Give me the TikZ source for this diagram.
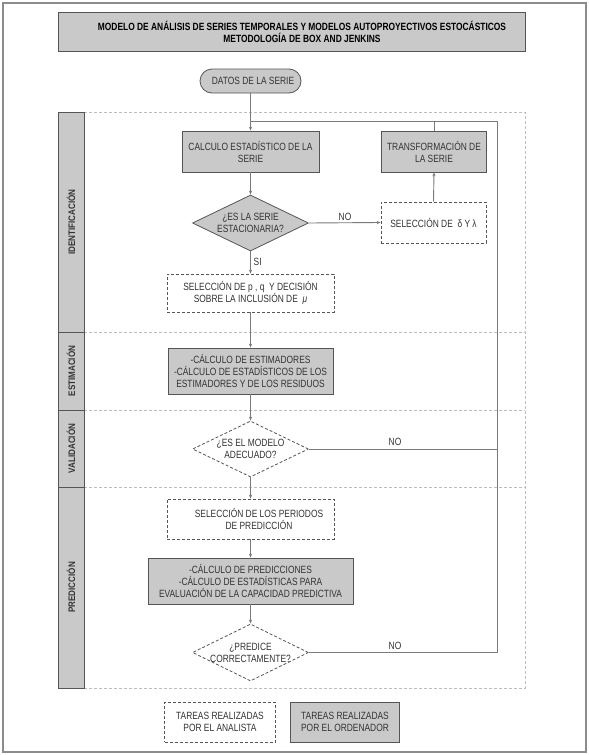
\documentclass[tikz,border=0pt]{standalone}
\usepackage{fontspec}
\setmainfont{Liberation Sans}[FakeStretch=0.8]
\newfontfamily\titlefont{Liberation Sans}[FakeStretch=0.8]
\newfontfamily\secfont{Liberation Sans}[FakeStretch=0.85]
\usetikzlibrary{shapes.geometric,arrows.meta}
\definecolor{boxfill}{HTML}{C9C9C9}
\definecolor{boxline}{HTML}{555555}
\definecolor{conn}{HTML}{7A7A7A}
\definecolor{txt}{HTML}{333333}
\definecolor{zone}{HTML}{BDBDBD}
\definecolor{frame}{HTML}{8C8C8C}
\tikzset{
  body/.style={font=\fontsize{10.5}{12}\selectfont, text=txt, align=center, inner sep=0pt},
  graybox/.style={body, rectangle, draw=boxline, fill=boxfill, line width=0.8pt},
  dashbox/.style={body, rectangle, draw=boxline, fill=white, line width=0.8pt, dash pattern=on 3pt off 2pt},
  graydia/.style={diamond, draw=boxline, fill=boxfill, line width=0.8pt, minimum width=116pt, minimum height=56pt, inner sep=0pt},
  dashdia/.style={diamond, draw=boxline, fill=white, line width=0.8pt, dash pattern=on 3pt off 2pt, minimum width=116pt, minimum height=56pt, inner sep=0pt},
  secbox/.style={rectangle, draw=boxline, fill=boxfill, line width=0.8pt, rotate=90, minimum height=26pt, inner sep=0pt, text=txt, font=\secfont\bfseries\fontsize{9.5}{11}\selectfont},
  conline/.style={draw=conn, line width=0.9pt},
  arr/.style={conline, -{Stealth[length=4pt,width=3.2pt]}},
  lbl/.style={body, text=txt}
}
\begin{document}
\begin{tikzpicture}[x=1pt,y=-1pt]
\useasboundingbox (0,0) rectangle (589,755);
\fill[white] (0,0) rectangle (589,755);
\draw[frame, line width=1.8pt] (3,3) rectangle (586,752);

% title
\node[rectangle, draw=boxline, fill=boxfill, line width=0.8pt, minimum width=467pt, minimum height=39pt, inner sep=0pt] (title) at (291.5,31.5) {};
\node[align=center, text=black, font=\titlefont\bfseries\fontsize{10.5}{12}\selectfont, inner sep=0pt] (titletext) at (302,32)
  {MODELO DE ANÁLISIS DE SERIES TEMPORALES Y MODELOS AUTOPROYECTIVOS ESTOCÁSTICOS\\METODOLOGÍA DE BOX AND JENKINS};

% zones
\draw[zone, line width=0.8pt, dash pattern=on 3pt off 2pt] (84,112) -- (525,112) -- (525,688) -- (84,688);
\draw[zone, line width=0.8pt, dash pattern=on 3pt off 2pt] (84,332) -- (525,332);
\draw[zone, line width=0.8pt, dash pattern=on 3pt off 2pt] (84,410) -- (525,410);
\draw[zone, line width=0.8pt, dash pattern=on 3pt off 2pt] (84,487) -- (525,487);

\node[secbox, minimum width=220pt] (sid) at (71,222) {IDENTIFICACIÓN};
\node[secbox, minimum width=78pt] (ses) at (71,371) {ESTIMACIÓN};
\node[secbox, minimum width=77pt] (sva) at (71,448.5) {VALIDACIÓN};
\node[secbox, minimum width=201pt] (spr) at (71,587.5) {PREDICCIÓN};

% nodes
\node[graybox, rounded corners=12pt, minimum width=101pt, minimum height=24pt] (datos) at (250.5,81) {\hspace*{5pt}DATOS DE LA SERIE};
\node[graybox, minimum width=137pt, minimum height=41pt] (calc) at (250.5,151.5) {CALCULO ESTADÍSTICO DE LA\\SERIE};
\node[graybox, minimum width=105.5pt, minimum height=41pt] (trans) at (434,151.5) {TRANSFORMACIÓN DE\\LA SERIE};
\node[graydia] (d1) at (250.5,223) {};
\node[body] (d1t) at (250.5,223) {¿ES LA SERIE\\ESTACIONARIA?};
\node[dashbox, minimum width=105pt, minimum height=41pt] (seld) at (433.5,222.5) {SELECCIÓN DE \ δ Y λ};
\node[dashbox, minimum width=167pt, minimum height=38pt] (pq) at (250.5,293) {SELECCIÓN DE p , q \ Y DECISIÓN\\SOBRE LA INCLUSIÓN DE \ \textit{μ}};
\node[graybox, minimum width=165pt, minimum height=46pt] (est) at (250.5,371) {-CÁLCULO DE ESTIMADORES\\-CÁLCULO DE ESTADÍSTICOS DE LOS\\ESTIMADORES Y DE LOS RESIDUOS};
\node[dashdia] (d2) at (250.5,449) {};
\node[body] (d2t) at (250.5,449) {¿ES EL MODELO\\ADECUADO?};
\node[dashbox, minimum width=167pt, minimum height=40pt] (per) at (250.5,519) {};
\node[body] (pert) at (259,519) {SELECCIÓN DE LOS PERIODOS\\DE PREDICCIÓN};
\node[graybox, minimum width=205pt, minimum height=46pt] (pred) at (250.5,581) {-CÁLCULO DE PREDICCIONES\\-CÁLCULO DE ESTADÍSTICAS PARA\\EVALUACIÓN DE LA CAPACIDAD PREDICTIVA};
\node[dashdia, minimum height=57pt] (d3) at (250.5,652.5) {};
\node[body] (d3t) at (250.5,652.5) {¿PREDICE\\CORRECTAMENTE?};

\node[dashbox, minimum width=110.5pt, minimum height=40pt] (leg1) at (220,722) {TAREAS REALIZADAS\\POR EL ANALISTA};
\node[graybox, minimum width=108.5pt, minimum height=40pt] (leg2) at (345,722) {TAREAS REALIZADAS\\POR EL ORDENADOR};

% loop coordinates
\coordinate (tl) at (250.5,121);
\coordinate (tr) at (497,121);
\coordinate (br) at (497,652.5);

% connectors
\draw[arr] (datos.south) -- (calc.north);
\draw[conline] (tl) -- (tr) -- (br) -- (d3.east);
\draw[conline] (trans.north) -- (trans.north |- tl);
\draw[conline] (d2.east) -- (d2.east -| tr);
\draw[arr] (calc.south) -- (d1.north);
\draw[arr] (d1.east) -- (seld.west);
\draw[arr] (seld.north) -- (trans.south);
\draw[arr] (d1.south) -- (pq.north);
\draw[arr] (pq.south) -- (est.north);
\draw[arr] (est.south) -- (d2.north);
\draw[arr] (d2.south) -- (per.north);
\draw[arr] (per.south) -- (pred.north);
\draw[arr] (pred.south) -- (d3.north);

% labels
\node[lbl] (no1) at (345,217) {NO};
\node[lbl, anchor=west] (si1) at (253.5,262) {SI};
\node[lbl] (no2) at (395,442) {NO};
\node[lbl] (no3) at (395,646) {NO};
\end{tikzpicture}
\end{document}
